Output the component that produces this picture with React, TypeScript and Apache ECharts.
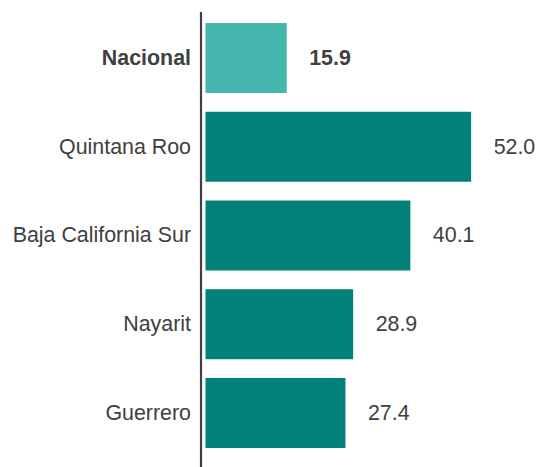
import React, { useEffect, useRef } from "react";
import * as echarts from "echarts";

const categories: string[] = ["Nacional", "Quintana Roo", "Baja California Sur", "Nayarit", "Guerrero"];
const values: number[] = [15.9, 52.0, 40.1, 28.9, 27.4];
const highlight: boolean[] = [true, false, false, false, false];

const FONT = "'Liberation Sans', Arial, sans-serif";

export default function App() {
  const ref = useRef<HTMLDivElement>(null);
  useEffect(() => {
    if (!ref.current) return;
    const chart = echarts.init(ref.current, null, { renderer: "svg" });
    chart.setOption({
      animation: false,
      textStyle: { fontFamily: FONT },
      grid: { left: 205.5, right: 30, top: 13.5, bottom: 9.6, containLabel: false },
      xAxis: {
        type: "value",
        min: 0,
        max: 60,
        show: false,
      },
      yAxis: {
        type: "category",
        data: categories,
        inverse: true,
        axisLine: { show: false },
        axisTick: { show: false },
        axisLabel: {
          margin: 14.5,
          fontSize: 21.4,
          fontFamily: FONT,
          color: "#404040",
          formatter: (v: string) => (v === "Nacional" ? "{b|" + v + "}" : v),
          rich: {
            b: { fontWeight: "bold", fontSize: 21.4, fontFamily: FONT, color: "#404040" },
          },
        },
      },
      graphic: [
        {
          type: "line",
          shape: { x1: 201, y1: 12, x2: 201, y2: 467 },
          style: { stroke: "#404040", lineWidth: 2.2 },
          silent: true,
        },
      ],
      series: [
        {
          type: "bar",
          barWidth: 70,
          data: values.map((v, i) => ({
            value: v,
            itemStyle: { color: highlight[i] ? "#44b6ad" : "#00827a" },
            label: {
              show: true,
              position: "right",
              distance: 22.5,
              fontSize: 21.4,
              fontFamily: FONT,
              color: "#404040",
              fontWeight: highlight[i] ? "bold" : "normal",
              formatter: (p: any) => Number(p.value).toFixed(1),
            },
          })),
        },
      ],
    });
    return () => chart.dispose();
  }, []);
  return (
    <div
      ref={ref}
      style={{ position: "fixed", left: 0, top: 0, width: 542, height: 467, background: "#ffffff" }}
    />
  );
}
